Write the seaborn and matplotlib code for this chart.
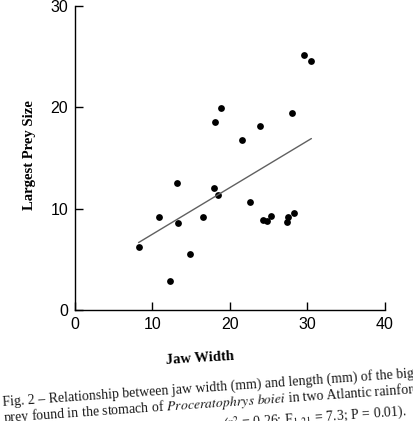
import matplotlib
matplotlib.use("Agg")
import matplotlib.pyplot as plt
import seaborn as sns
import pandas as pd

# ---- data ----
jaw_width = [8.2, 10.9, 13.2, 13.3, 12.2, 14.8, 16.5, 18.1, 18.8, 17.9, 18.4,
             21.6, 23.9, 22.6, 24.3, 24.8, 25.3, 28.0, 27.3, 27.5, 28.3, 29.5, 30.5]
prey_size = [6.2, 9.2, 12.5, 8.6, 2.9, 5.5, 9.2, 18.6, 19.9, 12.0, 11.3,
             16.8, 18.2, 10.7, 8.9, 8.8, 9.3, 19.4, 8.7, 9.2, 9.6, 25.2, 24.6]
x_ticks = [0, 10, 20, 30, 40]
y_ticks = [0, 10, 20, 30]
x_label = "Jaw Width"
y_label = "Largest Prey Size"
caption_lines = [
    "Fig. 2 \u2013 Relationship between jaw width (mm) and length (mm) of the biggest",
    "prey found in the stomach of $\\mathit{Proceratophrys}$ $\\mathit{boiei}$ in two Atlantic rainforest",
    "(r$^2$ = 0.26; F$_{1,21}$ = 7.3; P = 0.01).",
]

sns.set_theme(style="ticks")
plt.rcParams["font.family"] = ["Liberation Sans", "DejaVu Sans"]
plt.rcParams["mathtext.fontset"] = "stix"

W, H = 414, 421
fig = plt.figure(figsize=(W / 100, H / 100), dpi=100)
fig.patch.set_facecolor("white")

ox, oy, aw, ah = 75, 310, 310, 304
ax = fig.add_axes([ox / W, (H - oy) / H, aw / W, ah / H])
ax.set_facecolor("white")

df = pd.DataFrame({x_label: jaw_width, y_label: prey_size})
sns.regplot(data=df, x=x_label, y=y_label, ci=None, ax=ax,
            scatter_kws=dict(s=24, color="black", linewidths=0, alpha=1),
            line_kws=dict(color="#606060", lw=1.0))

ax.set_xlim(0, 40)
ax.set_ylim(0, 30)
ax.set_xticks(x_ticks)
ax.set_yticks(y_ticks)
sns.despine(ax=ax)
for s in ["left", "bottom"]:
    ax.spines[s].set_linewidth(1.0)
    ax.spines[s].set_color("black")
ax.tick_params(direction="in", length=6, width=1, labelsize=11.5, pad=5,
               colors="black")

ax.set_xlabel(x_label, fontfamily="Liberation Serif", fontweight="bold",
              fontsize=10.5, rotation=3.5, color="black")
ax.xaxis.set_label_coords((200 - ox) / aw, (oy - 350) / ah)
ax.set_ylabel(y_label, fontfamily="Liberation Serif", fontweight="bold",
              fontsize=10.5, color="black")
ax.yaxis.set_label_coords((36 - ox) / aw, (oy - 155) / ah)

# caption (slightly tilted and cut off, as on the scanned page)
slope_deg = 4.0
for (x0, base), txt in zip([(3, 406), (4, 422), (224, 428.5)], caption_lines):
    fig.text(x0 / W, (H - base) / H, txt, rotation=slope_deg,
             rotation_mode="anchor", ha="left", va="baseline",
             fontfamily="Liberation Serif", fontsize=10, color="#1a1a1a")

fig.savefig("out.png", dpi=100, facecolor="white")
